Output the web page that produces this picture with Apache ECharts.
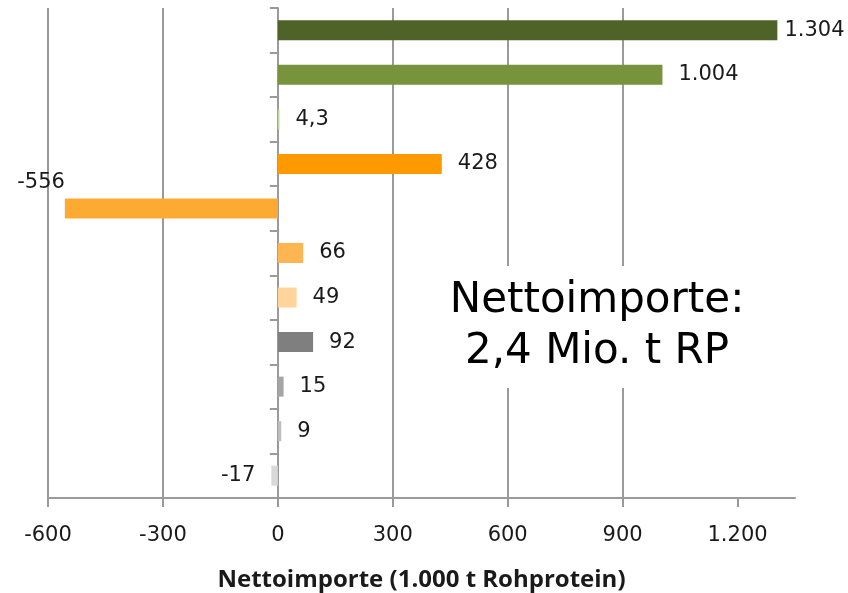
<!DOCTYPE html>
<html>
<head>
<meta charset="utf-8">
<script src="https://cdn.jsdelivr.net/npm/echarts@6/dist/echarts.min.js"></script>
<style>
  html, body { margin: 0; padding: 0; background: #fff; }
  #chart { width: 848px; height: 593px; }
</style>
</head>
<body>
<div id="chart"></div>
<script>
// categories top -> bottom (names are cut off in the source picture)
const categories = ['Kategorie 1', 'Kategorie 2', 'Kategorie 3', 'Kategorie 4', 'Kategorie 5',
  'Kategorie 6', 'Kategorie 7', 'Kategorie 8', 'Kategorie 9', 'Kategorie 10', 'Kategorie 11'];
const values = [1304, 1004, 4.3, 428, -556, 66, 49, 92, 15, 9, -17];
const barColors = ['#4f6228', '#77933c', '#c3d69b', '#ff9900', '#fdaa33', '#ffb551',
  '#ffd59b', '#7f7f7f', '#a5a5a5', '#bfbfbf', '#d9d9d9'];
const xTicks = [-600, -300, 0, 300, 600, 900, 1200];
const boxText = 'Nettoimporte:\n2,4 Mio. t RP';
const axisTitle = 'Nettoimporte (1.000 t Rohprotein)';

function fmtDe(v) {
  let neg = v < 0
  let parts = String(Math.abs(v)).split('.')
  let i = parts[0].replace(/\B(?=(\d{3})+(?!\d))/g, '.')
  return (neg ? '-' : '') + i + (parts[1] ? ',' + parts[1] : '')
}

const gridColor = '#9a9a9a'

let data = values.map((v, i) => {
  let label = {
    position: v < 0 ? 'left' : 'right',
    distance: 12
  }
  if (v < 0) label.backgroundColor = 'transparent'
  if (v === 1304) label.distance = 3
  if (v === -556) {
    label.offset = [16, -26]
  }
  return { value: v, itemStyle: { color: barColors[i] }, label }
})

let option = {
  animation: false,
  grid: { left: 48, right: 53, top: 8, bottom: 95, containLabel: false, outerBoundsMode: 'none' },
  xAxis: {
    type: 'value',
    min: -600,
    max: 1350,
    interval: 300,
    name: axisTitle,
    nameLocation: 'middle',
    nameGap: 70,
    nameTextStyle: { fontFamily: 'Open Sans', fontWeight: 'bold', fontSize: 24, color: '#1a1a1a' },
    axisLine: { show: true, lineStyle: { color: gridColor, width: 2 } },
    axisTick: { show: true, length: 9, customValues: xTicks, lineStyle: { color: gridColor, width: 2 } },
    axisLabel: {
      customValues: xTicks,
      margin: 27,
      fontFamily: 'DejaVu Sans',
      fontSize: 21,
      color: '#1a1a1a',
      formatter: v => fmtDe(v)
    },
    splitLine: { show: true, showMaxLine: false, lineStyle: { color: gridColor, width: 2 } }
  },
  yAxis: {
    type: 'category',
    inverse: true,
    data: categories,
    axisLine: { show: true, onZero: true, lineStyle: { color: gridColor, width: 2 } },
    axisTick: { show: true, length: 8, lineStyle: { color: gridColor, width: 2 } },
    axisLabel: { show: false },
    splitLine: { show: false }
  },
  series: [{
    type: 'bar',
    barWidth: 20,
    data: data,
    label: {
      show: true,
      fontFamily: 'DejaVu Sans',
      fontSize: 21,
      color: '#1a1a1a',
      backgroundColor: '#fff',
      padding: [10, 4],
      formatter: p => fmtDe(p.value)
    }
  }],
  graphic: [{
    type: 'text',
    x: 597,
    y: 327,
    z: 100,
    style: {
      text: boxText,
      font: '42px "DejaVu Sans"',
      fill: '#000',
      align: 'center',
      verticalAlign: 'middle',
      lineHeight: 51,
      backgroundColor: '#fff',
      padding: [10, 6]
    }
  }]
}

let myChart = echarts.init(document.getElementById('chart'))
myChart.setOption(option)
</script>
</body>
</html>
